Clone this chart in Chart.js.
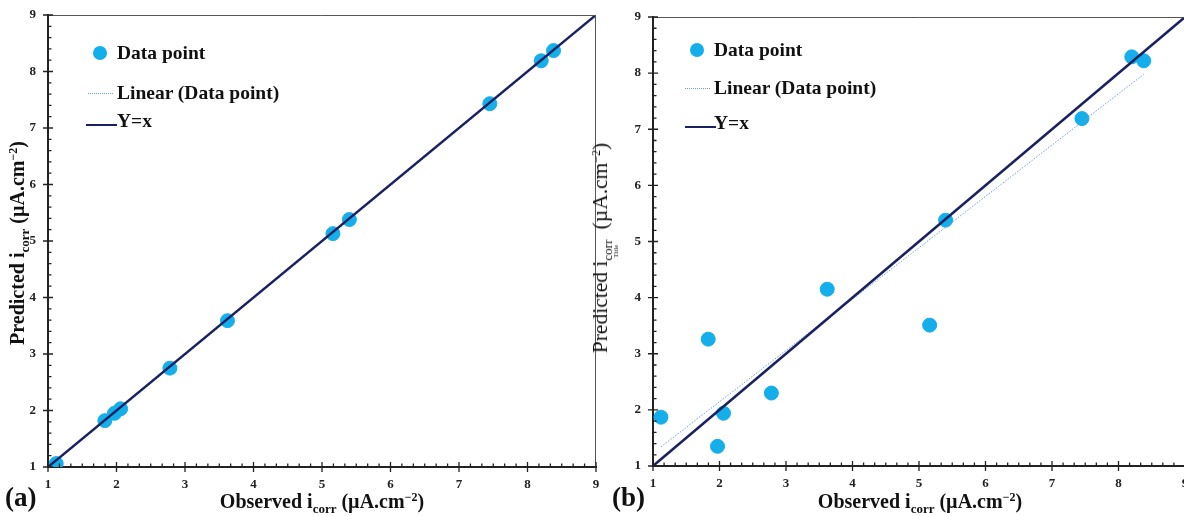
<!DOCTYPE html>
<html>
<head>
<meta charset="utf-8">
<script src="https://cdn.jsdelivr.net/npm/chart.js@4/dist/chart.umd.min.js"></script>
<style>
  body { margin: 0; background: #fff; width: 1184px; height: 516px; overflow: hidden; position: relative;
         font-family: "Liberation Serif", "DejaVu Serif", serif; color: #111; }
  .wrap { position: absolute; top: 0; height: 516px; }
  .t { position: absolute; white-space: nowrap; font-weight: bold; }
  .xt { font-size: 20px; transform: translate(-50%, -50%); }
  .yt { font-size: 20px; transform: translate(-50%, -50%) rotate(-90deg); }
  sub { font-size: 13px; vertical-align: -5px; }
  sup { font-size: 12px; vertical-align: 7px; }
  .leg { position: absolute; font-size: 19.5px; font-weight: bold; white-space: nowrap; transform: translateY(-50%); }
  .dot { position: absolute; width: 14px; height: 14px; border-radius: 50%; background: #14aeea; transform: translate(-50%, -50%); }
  .dotted { position: absolute; height: 0; border-top: 1px dotted #6a9fd8; }
  .solid { position: absolute; height: 0; border-top: 2px solid #1b2160; }
</style>
</head>
<body>
<div class="wrap" style="left:0;width:604px"><canvas id="chartA"></canvas></div>
<div class="wrap" style="left:598px;width:595px"><canvas id="chartB"></canvas></div>

<!-- legends -->
<div class="dot" style="left:100px;top:53px"></div>
<div class="leg" style="left:117px;top:53px">Data point</div>
<div class="dotted" style="left:88px;top:93px;width:25px"></div>
<div class="leg" style="left:117px;top:93px">Linear (Data point)</div>
<div class="solid" style="left:86px;top:124px;width:31px"></div>
<div class="leg" style="left:117px;top:121px">Y=x</div>

<div class="dot" style="left:697px;top:50px"></div>
<div class="leg" style="left:714px;top:50px">Data point</div>
<div class="dotted" style="left:685px;top:88px;width:25px"></div>
<div class="leg" style="left:714px;top:88px">Linear (Data point)</div>
<div class="solid" style="left:685px;top:126px;width:31px"></div>
<div class="leg" style="left:714px;top:123px">Y=x</div>

<!-- axis titles -->
<div class="t xt" style="left:322px;top:503px">Observed i<sub>corr</sub> (µA.cm<sup>−2</sup>)</div>
<div class="t xt" style="left:920px;top:503px">Observed i<sub>corr</sub> (µA.cm<sup>−2</sup>)</div>
<div class="t yt" style="left:19px;top:243px">Predicted i<sub>corr</sub> (µA.cm<sup>−2</sup>)</div>
<div class="t yt" style="left:604px;top:248px;font-weight:normal;font-size:21.5px">Predicted i<sub>corr</sub><sub style="font-size:7px;vertical-align:-11px;margin-left:-18px;margin-right:10px">Title</sub> (µA.cm<sup>−2</sup>)</div>
<div class="t" style="left:5px;top:482px;font-size:27px">(a)</div>
<div class="t" style="left:612px;top:482px;font-size:27px">(b)</div>

<script>
// observed corrosion current (same for both panels)
const observed = [1.12, 1.83, 1.97, 2.06, 2.78, 3.62, 5.16, 5.40, 7.45, 8.20, 8.38];
// predicted values, panel (a) and panel (b)
const predictedA = [1.06, 1.82, 1.95, 2.03, 2.75, 3.59, 5.13, 5.38, 7.43, 8.19, 8.37];
const predictedB = [1.87, 3.26, 1.35, 1.94, 2.30, 4.15, 3.51, 5.38, 7.19, 8.29, 8.22];
// linear trendline endpoints
const trendX = [1.12, 8.38];
const trendA = [1.10, 8.36];
const trendB = [1.34, 7.98];
// Y = x reference line
const identity = [1, 9];

const pointColor = '#14aeea';
const lineColor = '#1b2160';

function pairs(xs, ys) {
  return xs.map((x, i) => ({ x: x, y: ys[i] }));
}

// draws the box and the major / minor tick marks
const axisDeco = {
  id: 'axisDeco',
  afterDatasetsDraw(chart) {
    const ctx = chart.ctx;
    const a = chart.chartArea;
    const xs = chart.scales.x, ys = chart.scales.y;
    ctx.save();
    ctx.strokeStyle = '#555';
    ctx.lineWidth = 1;
    ctx.beginPath();
    ctx.moveTo(a.left, a.top + 0.5);
    ctx.lineTo(a.right - 0.5, a.top + 0.5);
    ctx.lineTo(a.right - 0.5, a.bottom);
    ctx.stroke();

    ctx.strokeStyle = '#222';
    ctx.lineWidth = 1.3;
    ctx.beginPath();
    for (let i = 0; i <= 48; i++) {
      const px = xs.getPixelForValue(1 + i / 6);
      const major = i % 6 === 0;
      ctx.moveTo(px, a.bottom + (major ? 5 : 0));
      ctx.lineTo(px, a.bottom - (major ? 5 : 3.5));
    }
    for (let i = 0; i <= 40; i++) {
      const py = ys.getPixelForValue(1 + i / 5);
      const major = i % 5 === 0;
      ctx.moveTo(a.left - (major ? 5 : 0), py);
      ctx.lineTo(a.left + (major ? 5 : 3.5), py);
    }
    ctx.stroke();
    ctx.restore();
  }
};

function makeChart(id, predicted, trend, yWidth, xHeight, pad) {
  const ctx = document.getElementById(id).getContext('2d');
  return new Chart(ctx, {
    type: 'scatter',
    data: {
      datasets: [
        {
          label: 'Y=x',
          data: pairs(identity, identity),
          showLine: true,
          borderColor: lineColor,
          borderWidth: 2.5,
          pointRadius: 0,
          order: 0
        },
        {
          label: 'Linear (Data point)',
          data: pairs(trendX, trend),
          showLine: true,
          borderColor: '#6a9fd8',
          borderWidth: 1,
          borderDash: [1.5, 1.5],
          pointRadius: 0,
          order: 1
        },
        {
          label: 'Data point',
          data: pairs(observed, predicted),
          backgroundColor: pointColor,
          borderColor: pointColor,
          pointRadius: 7,
          order: 2
        }
      ]
    },
    options: {
      responsive: true,
      maintainAspectRatio: false,
      animation: false,
      layout: { padding: pad },
      plugins: { legend: { display: false }, tooltip: { enabled: false } },
      scales: {
        x: {
          type: 'linear',
          min: 1, max: 9,
          afterFit: s => { s.height = xHeight; },
          grid: { display: false },
          border: { display: true, color: '#222', width: 2 },
          ticks: {
            stepSize: 1, padding: 2, color: '#222',
            font: { family: 'Liberation Serif', size: 13, weight: 'bold' }
          }
        },
        y: {
          type: 'linear',
          min: 1, max: 9,
          afterFit: s => { s.width = yWidth; },
          grid: { display: false },
          border: { display: true, color: '#222', width: 2 },
          ticks: {
            stepSize: 1, padding: 4, color: '#222',
            font: { family: 'Liberation Serif', size: 13, weight: 'bold' }
          }
        }
      }
    },
    plugins: [axisDeco]
  });
}

makeChart('chartA', predictedA, trendA, 48, 49, { top: 15, right: 3, left: 0, bottom: 0 });
makeChart('chartB', predictedB, trendB, 55, 50, { top: 17, right: 2, left: 0, bottom: 0 });
</script>
</body>
</html>
